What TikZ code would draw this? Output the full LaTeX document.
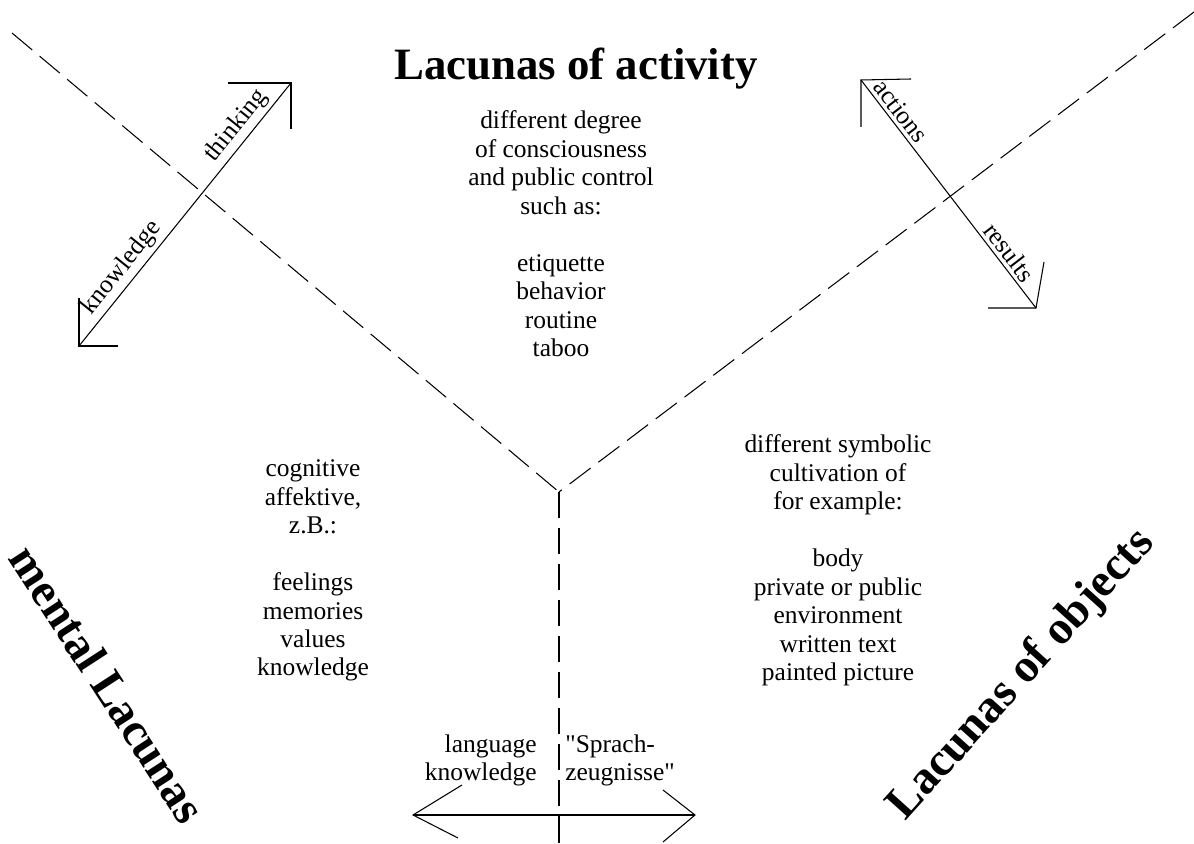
\documentclass[tikz,border=0pt]{standalone}
\usepackage{fontspec}
\setmainfont{Liberation Serif}
\usetikzlibrary{positioning,calc}

\begin{document}
\begin{tikzpicture}[x=0.02cm, y=-0.02cm,
    bigtitle/.style={font=\fontsize{25.5}{30}\selectfont\bfseries, inner sep=0pt},
    sidetitle/.style={font=\fontsize{26.7}{30}\selectfont\bfseries, inner sep=0pt},
    txt/.style={align=center, font=\fontsize{14.5}{16.2}\selectfont, inner sep=0pt, anchor=north},
    dashline/.style={dash pattern=on 15pt off 5.5pt, line width=0.6pt},
    arrow/.style={line width=0.6pt},
    lbl/.style={sloped, above, font=\fontsize{14.5}{16.2}\selectfont, inner sep=2pt}
]
    \useasboundingbox (0,0) rectangle (1194,844);

    % Grenzlinien
    \coordinate (mid) at (559,492);
    \coordinate (nw) at (12,33);
    \coordinate (ne) at (1194,12);
    \coordinate (s) at (559,844);
    \draw[dashline] (nw) -- (mid);
    \draw[dashline] (ne) -- (mid);
    \draw[dashline] (mid) -- (s);

    % Titel
    \node[bigtitle, anchor=base] (act) at (576,80) {Lacunas of activity};
    \node[sidetitle, rotate=-57] (ment) at (108,684) {mental Lacunas};
    \node[sidetitle, rotate=48] (obj) at (1022,675) {Lacunas of objects};

    % Texte
    \node[txt] (actxt) at (561,110.5) {different degree\\of consciousness\\and public control\\such as:\\[16.2pt]etiquette\\behavior\\routine\\taboo};
    \node[txt] (mentxt) at (313,459.5) {cognitive\\affektive,\\z.B.:\\[16.2pt]feelings\\memories\\values\\knowledge};
    \node[txt] (objtxt) at (838,434.5) {different symbolic\\cultivation of\\for example:\\[16.2pt]body\\private or public\\environment\\written text\\painted picture};
    \node[txt, anchor=north east, align=right] (lang) at (537,734.5) {language\\knowledge};
    \node[txt, anchor=north west, align=left] (sprach) at (565,734.5) {\textquotedbl Sprach-\\zeugnisse\textquotedbl};

    % Pfeile
    \coordinate (kn) at (79,346);
    \coordinate (th) at (291,83);
    \draw[arrow] (kn) -- node[lbl, pos=0.26] {knowledge} node[lbl, pos=0.8] {thinking} (th);
    \draw[arrow] (th) ++(-63,0) -- (th) -- ++(0,46);
    \draw[arrow] (kn) ++(0,-48) -- (kn) -- ++(39,0);

    \coordinate (ac) at (861,80);
    \coordinate (re) at (1036,308);
    \draw[arrow] (ac) -- node[lbl, pos=0.17] {actions} node[lbl, pos=0.79] {results} (re);
    \draw[arrow] (ac) ++(50,-1) -- (ac) -- ++(0,47);
    \draw[arrow] (re) ++(-48,0) -- (re) -- ++(8,-46);

    \coordinate (lk) at (413,815);
    \coordinate (sz) at (695,815);
    \draw[arrow] (lk) -- (sz);
    \draw[arrow] (lk) ++(49,-30) -- (lk) -- ++(45,23);
    \draw[arrow] (sz) ++(-32,-25) -- (sz) -- ++(-32,27);
\end{tikzpicture}
\end{document}
